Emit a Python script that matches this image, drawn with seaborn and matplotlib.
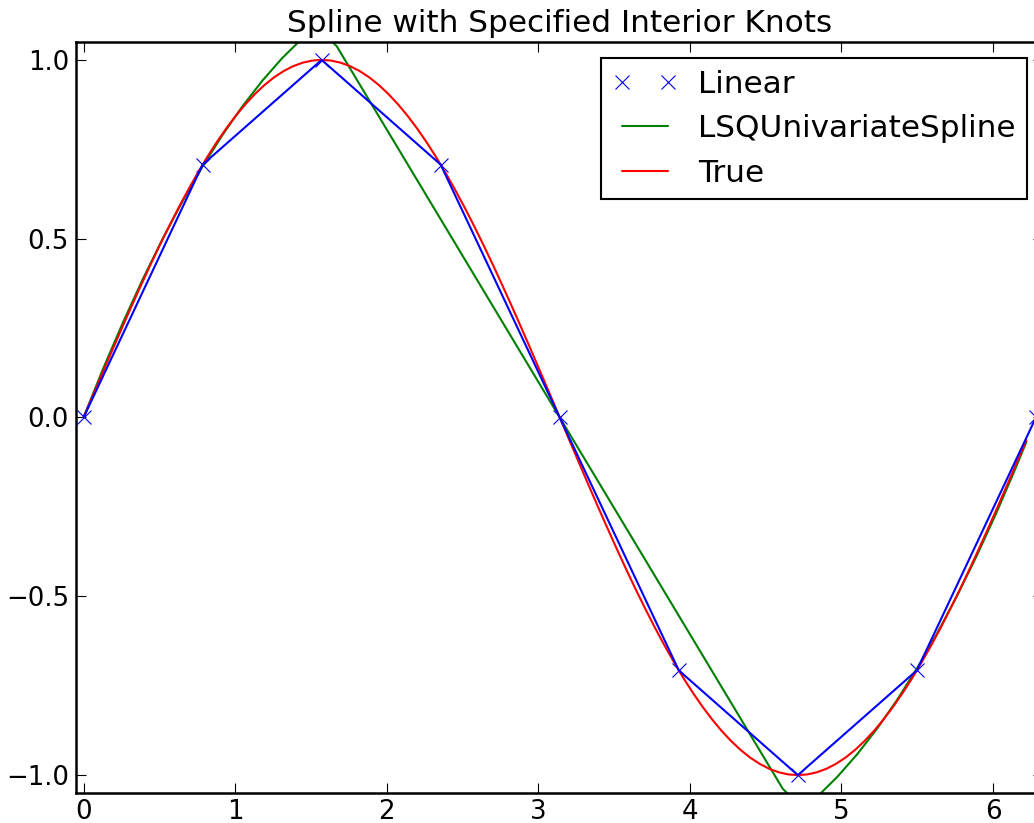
import matplotlib
matplotlib.use('Agg')
import numpy as np
import matplotlib.pyplot as plt
from matplotlib.legend_handler import HandlerLine2D
import seaborn as sns

# sample points (the 'Linear' data)
x_pts = [0.0, 0.7854, 1.5708, 2.3562, 3.1416, 3.9270, 4.7124, 5.4978, 6.2832]
y_pts = [0.0, 0.7071, 1.0, 0.7071, 0.0, -0.7071, -1.0, -0.7071, 0.0]

# grid for the spline curve (includes the interior knots)
x_spl = [0.0, 0.1309, 0.2618, 0.3927, 0.5236, 0.6545, 0.7854, 0.9163, 1.0472,
         1.1781, 1.3090, 1.4399, 1.4708, 1.5708, 1.6708, 1.7017, 1.8326, 1.9635,
         2.0944, 2.2253, 2.3562, 2.4871, 2.6180, 2.7489, 2.8798, 3.0107, 3.1416,
         3.2725, 3.4034, 3.5343, 3.6652, 3.7961, 3.9270, 4.0579, 4.1888, 4.3197,
         4.4506, 4.5815, 4.6124, 4.7124, 4.8124, 4.8433, 4.9742, 5.1051, 5.2360,
         5.3669, 5.4978, 5.6287, 5.7596, 5.8905, 6.0214, 6.1523, 6.2204]

y_spl = [0.0010, 0.1385, 0.2677, 0.3887, 0.5014, 0.6058, 0.7020, 0.7900, 0.8697,
         0.9411, 1.0043, 1.0592, 1.0710, 1.0814, 1.0378, 1.0160, 0.9236, 0.8312,
         0.7389, 0.6465, 0.5542, 0.4618, 0.3694, 0.2771, 0.1847, 0.0924, 0.0,
         -0.0924, -0.1847, -0.2771, -0.3694, -0.4618, -0.5542, -0.6465, -0.7389, -0.8312,
         -0.9236, -1.0160, -1.0378, -1.0814, -1.0710, -1.0592, -1.0043, -0.9411, -0.8697,
         -0.7900, -0.7020, -0.6058, -0.5014, -0.3887, -0.2677, -0.1385, -0.0680]

# grid for the true curve
x_true = [0.0, 0.0628, 0.1257, 0.1885, 0.2513, 0.3142, 0.3770, 0.4398, 0.5027, 0.5655,
          0.6283, 0.6912, 0.7540, 0.8168, 0.8796, 0.9425, 1.0053, 1.0681, 1.1310, 1.1938,
          1.2566, 1.3195, 1.3823, 1.4451, 1.5080, 1.5708, 1.6336, 1.6965, 1.7593, 1.8221,
          1.8850, 1.9478, 2.0106, 2.0735, 2.1363, 2.1991, 2.2619, 2.3248, 2.3876, 2.4504,
          2.5133, 2.5761, 2.6389, 2.7018, 2.7646, 2.8274, 2.8903, 2.9531, 3.0159, 3.0788,
          3.1416, 3.2044, 3.2673, 3.3301, 3.3929, 3.4558, 3.5186, 3.5814, 3.6442, 3.7071,
          3.7699, 3.8327, 3.8956, 3.9584, 4.0212, 4.0841, 4.1469, 4.2097, 4.2726, 4.3354,
          4.3982, 4.4611, 4.5239, 4.5867, 4.6496, 4.7124, 4.7752, 4.8381, 4.9009, 4.9637,
          5.0265, 5.0894, 5.1522, 5.2150, 5.2779, 5.3407, 5.4035, 5.4664, 5.5292, 5.5920,
          5.6549, 5.7177, 5.7805, 5.8434, 5.9062, 5.9690, 6.0319, 6.0947, 6.1575, 6.2204]

y_true = [0.0, 0.0628, 0.1253, 0.1874, 0.2487, 0.3090, 0.3681, 0.4258, 0.4818, 0.5358,
          0.5878, 0.6374, 0.6845, 0.7290, 0.7705, 0.8090, 0.8443, 0.8763, 0.9048, 0.9298,
          0.9511, 0.9686, 0.9823, 0.9921, 0.9980, 1.0, 0.9980, 0.9921, 0.9823, 0.9686,
          0.9511, 0.9298, 0.9048, 0.8763, 0.8443, 0.8090, 0.7705, 0.7290, 0.6845, 0.6374,
          0.5878, 0.5358, 0.4818, 0.4258, 0.3681, 0.3090, 0.2487, 0.1874, 0.1253, 0.0628,
          0.0, -0.0628, -0.1253, -0.1874, -0.2487, -0.3090, -0.3681, -0.4258, -0.4818, -0.5358,
          -0.5878, -0.6374, -0.6845, -0.7290, -0.7705, -0.8090, -0.8443, -0.8763, -0.9048, -0.9298,
          -0.9511, -0.9686, -0.9823, -0.9921, -0.9980, -1.0, -0.9980, -0.9921, -0.9823, -0.9686,
          -0.9511, -0.9298, -0.9048, -0.8763, -0.8443, -0.8090, -0.7705, -0.7290, -0.6845, -0.6374,
          -0.5878, -0.5358, -0.4818, -0.4258, -0.3681, -0.3090, -0.2487, -0.1874, -0.1253, -0.0628]


class ShiftedHandler(HandlerLine2D):
    # legend handle starts a bit further right inside its slot
    def __init__(self, shift, **kw):
        super().__init__(**kw)
        self.shift = shift

    def get_xdata(self, legend, xdescent, ydescent, width, height, fontsize):
        n = self.get_numpoints(legend)
        xd = np.linspace(-xdescent + self.shift, -xdescent + width, n)
        return xd, xd


sns.set_style('ticks')
plt.rcParams['font.family'] = ['DejaVu Sans']
plt.rcParams['text.color'] = 'black'
plt.rcParams['xtick.color'] = 'black'
plt.rcParams['ytick.color'] = 'black'

fig = plt.figure(figsize=(10.34, 8.23), dpi=100)
ax = fig.add_axes([76 / 1034, 30 / 823, 967 / 1034, 751 / 823])

lw = 1.5
sns.lineplot(x=x_pts, y=y_pts, ax=ax, color='b', marker='x', linestyle='',
             markersize=9.5, markeredgewidth=0.8, markeredgecolor='b',
             label='Linear', sort=False)
sns.lineplot(x=x_spl, y=y_spl, ax=ax, color='g', linewidth=lw,
             label='LSQUnivariateSpline', sort=False)
sns.lineplot(x=x_true, y=y_true, ax=ax, color='r', linewidth=lw,
             label='True', sort=False)
sns.lineplot(x=x_pts, y=y_pts, ax=ax, color='b', linewidth=lw, sort=False)

ax.set_xlim(-0.05, 6.33)
ax.set_ylim(-1.05, 1.05)
ax.set_xticks([0, 1, 2, 3, 4, 5, 6])
ax.set_yticks([-1.0, -0.5, 0.0, 0.5, 1.0])
ax.tick_params(direction='in', top=True, right=True, length=7, width=0.8,
               labelsize=18.7, pad=5)
ax.tick_params(axis='x', pad=4)
for s in ax.spines.values():
    s.set_linewidth(1.8)
    s.set_color('black')

ax.set_title('Spline with Specified Interior Knots', fontsize=22.4, pad=7,
             color='black')

leg = ax.legend(loc='upper right', bbox_to_anchor=(1027 / 1034, 1 - 58 / 823),
                bbox_transform=fig.transFigure, borderaxespad=0, numpoints=2,
                fontsize=22.4, frameon=True, fancybox=False, framealpha=1,
                handlelength=1.77, handletextpad=0.98, borderpad=0.37,
                labelspacing=0.5,
                handler_map={matplotlib.lines.Line2D: ShiftedHandler(6.8, marker_pad=0)})
leg.get_frame().set_edgecolor('black')
leg.get_frame().set_linewidth(1.5)
for t in leg.get_texts():
    t.set_color('black')

fig.savefig('out.png', dpi=100)
